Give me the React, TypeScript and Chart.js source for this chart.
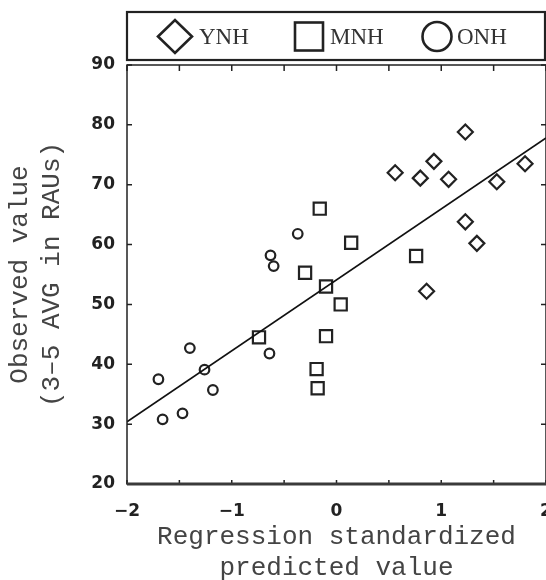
import React, { useEffect, useRef } from 'react';
import { Chart, registerables } from 'chart.js';

Chart.register(...registerables);

const seriesNames = ['YNH', 'MNH', 'ONH'];
const ynhX = [1.23, 0.56, 0.8, 0.93, 1.07, 1.53, 1.8, 1.23, 1.34, 0.86];
const ynhY = [78.8, 72.0, 71.1, 73.9, 70.9, 70.5, 73.5, 63.8, 60.2, 52.2];
const mnhX = [-0.16, 0.14, 0.76, -0.3, -0.1, 0.04, -0.74, -0.1, -0.19, -0.18];
const mnhY = [66.0, 60.3, 58.1, 55.3, 53.0, 50.0, 44.5, 44.7, 39.2, 36.0];
const onhX = [-0.37, -0.63, -0.6, -1.4, -0.64, -1.26, -1.7, -1.18, -1.47, -1.66];
const onhY = [61.8, 58.2, 56.4, 42.7, 41.8, 39.1, 37.5, 35.7, 31.8, 30.8];
const fitX = [-2, 2];
const fitY = [30.4, 77.8];
const xMin = -2;
const xMax = 2;
const yMin = 20;
const yMax = 90;
const xTitle = ['Regression standardized', 'predicted value'];
const yTitle = ['Observed value', '(3\u20135 AVG in RAUs)'];

const toPts = (xs: number[], ys: number[]) => xs.map((x, i) => ({ x, y: ys[i] }));

const INK = '#222';

const framePlugin = {
  id: 'frame',
  afterDatasetsDraw(chart: any) {
    const { ctx, chartArea } = chart;
    const { left, right, top, bottom } = chartArea;
    const xs = chart.scales.x;
    const ys = chart.scales.y;
    ctx.save();
    ctx.strokeStyle = INK;
    ctx.lineWidth = 1.5;
    ctx.strokeRect(left, top, right - left, bottom - top);
    ctx.beginPath();
    xs.ticks.forEach((t: any) => {
      const px = xs.getPixelForValue(t.value);
      ctx.moveTo(px, top);
      ctx.lineTo(px, top + 6);
      ctx.moveTo(px, bottom);
      ctx.lineTo(px, bottom - 4);
    });
    ys.ticks.forEach((t: any) => {
      const py = ys.getPixelForValue(t.value);
      ctx.moveTo(left, py);
      ctx.lineTo(left + 5, py);
      ctx.moveTo(right, py);
      ctx.lineTo(right - 5, py);
    });
    ctx.stroke();
    ctx.lineWidth = 3;
    ctx.strokeStyle = '#3a3a3a';
    ctx.beginPath();
    ctx.moveTo(left, bottom);
    ctx.lineTo(right, bottom);
    ctx.stroke();
    ctx.restore();
  },
};

const legendPlugin = {
  id: 'boxLegend',
  afterDraw(chart: any) {
    const { ctx, chartArea } = chart;
    const left = chartArea.left;
    const right = 545;
    const top = 12;
    const bottom = 60;
    const cy = 36.5;
    ctx.save();
    ctx.strokeStyle = INK;
    ctx.lineWidth = 2.2;
    ctx.strokeRect(left, top, right - left, bottom - top);
    ctx.lineWidth = 2.6;
    ctx.beginPath();
    ctx.moveTo(175 - 17, cy);
    ctx.lineTo(175, cy - 16.5);
    ctx.lineTo(175 + 17, cy);
    ctx.lineTo(175, cy + 16.5);
    ctx.closePath();
    ctx.stroke();
    ctx.strokeRect(309 - 14, cy - 14, 28, 28);
    ctx.beginPath();
    ctx.arc(437, cy, 14.5, 0, Math.PI * 2);
    ctx.stroke();
    ctx.fillStyle = '#333';
    ctx.font = '23px "Liberation Serif", serif';
    ctx.textBaseline = 'middle';
    ctx.textAlign = 'left';
    ctx.fillText(seriesNames[0], 199, cy + 1);
    ctx.fillText(seriesNames[1], 330, cy + 1);
    ctx.fillText(seriesNames[2], 457, cy + 1);
    ctx.restore();
  },
};

export default function App() {
  const ref = useRef<HTMLCanvasElement | null>(null);
  useEffect(() => {
    if (!ref.current) return;
    const markerCommon = {
      backgroundColor: 'rgba(0,0,0,0)',
      borderColor: INK,
      borderWidth: 2.2,
      pointBackgroundColor: 'rgba(0,0,0,0)',
      pointBorderColor: INK,
      pointBorderWidth: 2.2,
      showLine: false,
    };
    const chart = new Chart(ref.current, {
      type: 'scatter',
      data: {
        datasets: [
          {
            label: 'fit',
            data: toPts(fitX, fitY),
            showLine: true,
            borderColor: '#111',
            borderWidth: 1.6,
            pointRadius: 0,
            fill: false,
          } as any,
          { label: seriesNames[0], data: toPts(ynhX, ynhY), pointStyle: 'rectRot', pointRadius: 7.5, ...markerCommon },
          { label: seriesNames[1], data: toPts(mnhX, mnhY), pointStyle: 'rect', pointRadius: 8.6, ...markerCommon },
          { label: seriesNames[2], data: toPts(onhX, onhY), pointStyle: 'circle', pointRadius: 4.8, ...markerCommon },
        ],
      },
      options: {
        animation: false,
        responsive: true,
        maintainAspectRatio: false,
        layout: { padding: { top: 65, right: 34, left: 0, bottom: 0 } },
        plugins: { legend: { display: false }, tooltip: { enabled: false } },
        scales: {
          x: {
            type: 'linear',
            min: xMin,
            max: xMax,
            afterFit: (s: any) => {
              s.height = 116;
            },
            grid: { display: false, drawTicks: false },
            border: { display: false },
            ticks: {
              stepSize: 0.5,
              padding: 17,
              color: INK,
              font: { family: '"DejaVu Sans", sans-serif', size: 17, weight: 'bold' },
              maxRotation: 0,
              autoSkip: false,
              callback: (v: any) => (Number.isInteger(v) ? String(v).replace('-', '\u2212') : ''),
            },
            title: {
              display: true,
              text: xTitle,
              color: '#444',
              font: { family: '"Liberation Mono", monospace', size: 26, lineHeight: 1.2 },
              padding: { top: 0, bottom: 16 },
            },
          },
          y: {
            type: 'linear',
            min: yMin,
            max: yMax,
            afterFit: (s: any) => {
              s.width = 127;
            },
            grid: { display: false, drawTicks: false },
            border: { display: false },
            ticks: {
              stepSize: 10,
              padding: 12,
              color: INK,
              font: { family: '"DejaVu Sans", sans-serif', size: 17, weight: 'bold' },
            },
            title: {
              display: true,
              text: yTitle,
              color: '#444',
              font: { family: '"Liberation Mono", monospace', size: 26, lineHeight: 1.23 },
              padding: { top: 4, bottom: 0 },
            },
          },
        },
      },
      plugins: [framePlugin, legendPlugin],
    } as any);
    return () => chart.destroy();
  }, []);
  return (
    <div style={{ position: 'fixed', left: 0, top: 0, width: 546, height: 580, overflow: 'hidden', background: '#fff' }}>
      <div style={{ position: 'absolute', left: 0, top: 0, width: 580, height: 600 }}>
        <canvas ref={ref} />
      </div>
    </div>
  );
}
